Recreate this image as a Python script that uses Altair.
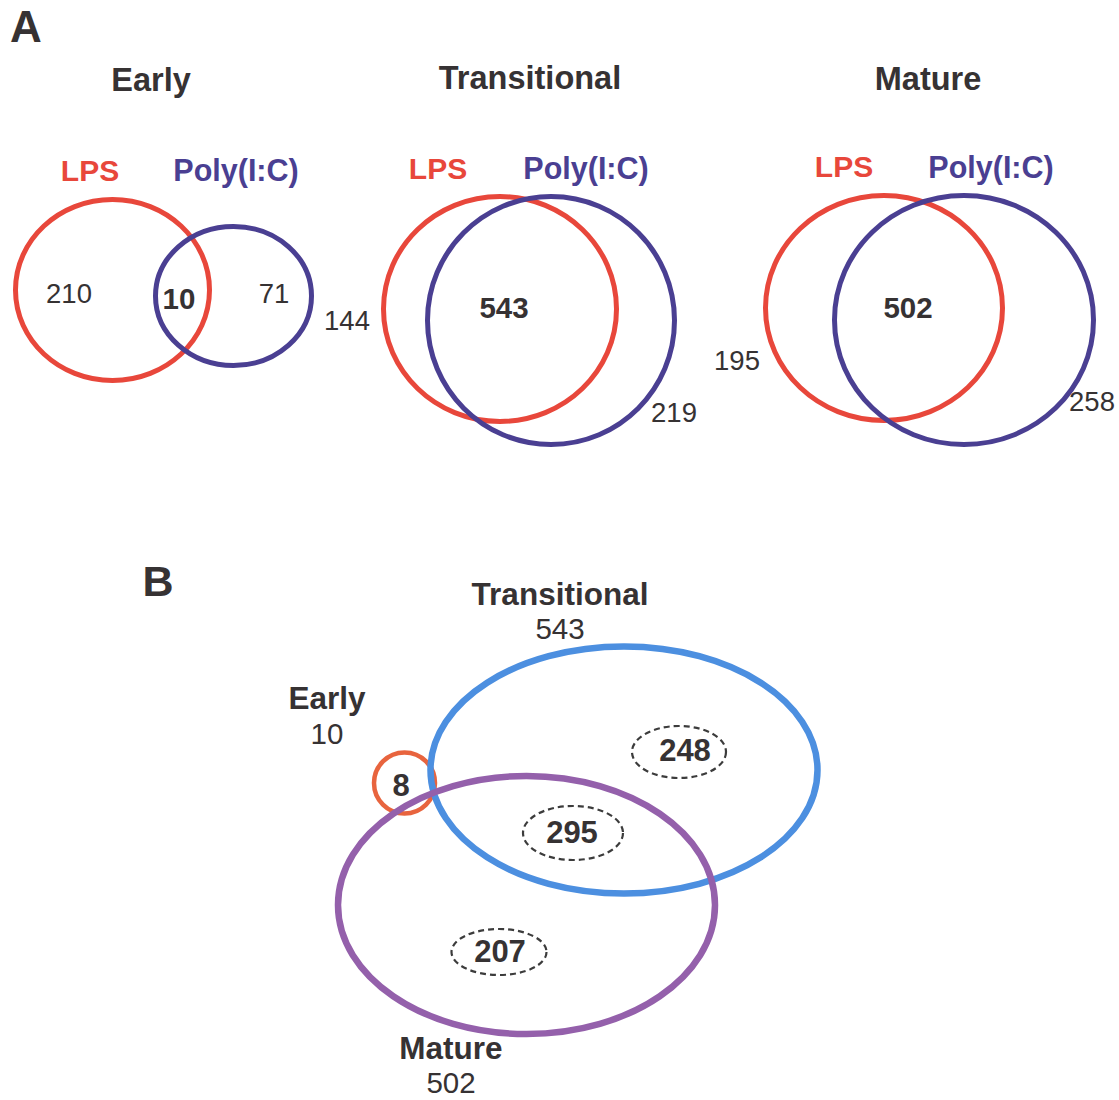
import altair as alt
import pandas as pd

W, H = 1119, 1100
FONT = "Liberation Sans"

# ---- Panel A: genes regulated by LPS and/or Poly(I:C) at each stage ----
stages = ["Early", "Transitional", "Mature"]
treatments = ["LPS", "Poly(I:C)"]
lps_only = [210, 144, 195]
shared = [10, 543, 502]
poly_only = [71, 219, 258]

# ---- Panel B: overlap of the shared gene sets between stages ----
b_sets = ["Early", "Transitional", "Mature"]
b_totals = [10, 543, 502]
b_regions = ["Early/Transitional/Mature", "Transitional only",
             "Transitional & Mature", "Mature only"]
b_counts = [8, 248, 295, 207]

# ---- layout (pixel space, origin top-left) ----
a_title_xy = [(151, 81), (530, 79), (928, 80)]
a_lps_label_xy = [(90, 172), (438, 170), (844, 168)]
a_poly_label_xy = [(236, 172), (586, 170), (991, 169)]
# (cx, cy, rx, ry) for each set outline
a_lps_ellipse = [(112.5, 290, 97, 90.5), (500, 309, 116.5, 112.5), (884, 308, 118.5, 112.5)]
a_poly_ellipse = [(233.5, 296, 78, 69.5), (551, 320.5, 123.5, 124), (964, 320, 129.5, 124.5)]
a_lps_only_xy = [(69, 295), (347, 322), (737, 362)]
a_shared_xy = [(179, 300), (504, 309), (908, 309)]
a_poly_only_xy = [(274, 295), (674, 414), (1092, 403)]

b_title_xy = [(327, 700), (560, 596), (451, 1050)]
b_total_xy = [(327, 735), (560, 630), (451, 1084)]
b_ellipse = [(404.5, 783, 30.5, 30.5), (624, 770, 193.5, 123.5), (526.5, 905, 188.5, 129)]
b_region_xy = [(401, 787), (685, 752), (572, 834), (500, 953)]
b_region_ring = [None, (679, 752, 47, 26), (573, 833, 50, 27), (499, 952, 47.5, 23)]

RED = "#e8473b"
NAVY = "#4a3f92"
DARK = "#363233"
b_colors = ["#e8643e", "#4c8fe0", "#9460ab"]

K = 0.5523


def ellipse_path(ratio):
    """Unit ellipse (x radius 1) as cubic Beziers, for a custom point shape."""
    r, k = ratio, K
    f = lambda v: f"{v:.4f}"
    return (f"M 1 0 C 1 {f(r*k)} {f(k)} {f(r)} 0 {f(r)} "
            f"C {f(-k)} {f(r)} -1 {f(r*k)} -1 0 "
            f"C -1 {f(-r*k)} {f(-k)} {f(-r)} 0 {f(-r)} "
            f"C {f(k)} {f(-r)} 1 {f(-r*k)} 1 0 Z")


outline_rows = []
for i in range(3):
    for geom, col in ((a_lps_ellipse[i], RED), (a_poly_ellipse[i], NAVY)):
        cx, cy, rx, ry = geom
        outline_rows.append(dict(x=cx, y=cy, shape=ellipse_path(ry / rx),
                                 size=(2 * rx) ** 2, color=col, sw=5))
for i, geom in enumerate(b_ellipse):
    cx, cy, rx, ry = geom
    outline_rows.append(dict(x=cx, y=cy, shape=ellipse_path(ry / rx),
                             size=(2 * rx) ** 2, color=b_colors[i],
                             sw=4.5 if i == 0 else 6.5))
outlines = pd.DataFrame(outline_rows)

ring_rows = []
for geom in b_region_ring:
    if geom is None:
        continue
    cx, cy, rx, ry = geom
    ring_rows.append(dict(x=cx, y=cy, shape=ellipse_path(ry / rx), size=(2 * rx) ** 2))
rings = pd.DataFrame(ring_rows)

bold_rows = [dict(x=26, y=29, t="A", s=44, c=DARK), dict(x=158, y=583, t="B", s=43, c=DARK)]
norm_rows = []
for i, st in enumerate(stages):
    bold_rows.append(dict(x=a_title_xy[i][0], y=a_title_xy[i][1], t=st, s=32.5, c=DARK))
    bold_rows.append(dict(x=a_lps_label_xy[i][0], y=a_lps_label_xy[i][1], t=treatments[0], s=30, c=RED))
    bold_rows.append(dict(x=a_poly_label_xy[i][0], y=a_poly_label_xy[i][1], t=treatments[1], s=30.5, c=NAVY))
    bold_rows.append(dict(x=a_shared_xy[i][0], y=a_shared_xy[i][1], t=str(shared[i]), s=29.5, c=DARK))
    norm_rows.append(dict(x=a_lps_only_xy[i][0], y=a_lps_only_xy[i][1], t=str(lps_only[i]), s=27.5, c=DARK))
    norm_rows.append(dict(x=a_poly_only_xy[i][0], y=a_poly_only_xy[i][1], t=str(poly_only[i]), s=27.5, c=DARK))
for i, st in enumerate(b_sets):
    bold_rows.append(dict(x=b_title_xy[i][0], y=b_title_xy[i][1], t=st, s=31.5, c=DARK))
    norm_rows.append(dict(x=b_total_xy[i][0], y=b_total_xy[i][1], t=str(b_totals[i]), s=29.5, c=DARK))
for i, n in enumerate(b_counts):
    bold_rows.append(dict(x=b_region_xy[i][0], y=b_region_xy[i][1], t=str(n), s=31, c=DARK))
bold_text = pd.DataFrame(bold_rows)
norm_text = pd.DataFrame(norm_rows)

xs = alt.Scale(domain=[0, W], nice=False, zero=False)
ys = alt.Scale(domain=[0, H], nice=False, zero=False, reverse=True)
X = alt.X("x:Q", scale=xs, axis=None)
Y = alt.Y("y:Q", scale=ys, axis=None)

outline_layer = alt.Chart(outlines).mark_point(filled=False, opacity=1, fill=None).encode(
    x=X, y=Y,
    shape=alt.Shape("shape:N", scale=None),
    size=alt.Size("size:Q", scale=None),
    stroke=alt.Stroke("color:N", scale=None),
    strokeWidth=alt.StrokeWidth("sw:Q", scale=None),
)

ring_layer = alt.Chart(rings).mark_point(
    filled=False, opacity=1, stroke="#3c3c3c", strokeWidth=2.2, strokeDash=[6, 4]
).encode(
    x=X, y=Y,
    shape=alt.Shape("shape:N", scale=None),
    size=alt.Size("size:Q", scale=None),
)


def text_layer(df, weight):
    return alt.Chart(df).mark_text(
        font=FONT, fontWeight=weight, align="center", baseline="middle"
    ).encode(
        x=X, y=Y,
        text="t:N",
        size=alt.Size("s:Q", scale=None),
        color=alt.Color("c:N", scale=None),
    )


chart = alt.layer(
    outline_layer, ring_layer, text_layer(norm_text, "normal"), text_layer(bold_text, "bold")
).properties(
    width=W, height=H, padding=0, autosize=alt.AutoSizeParams(type="none"), background="white"
).configure_view(stroke=None)

chart.save("out.html", embed_options={"renderer": "svg", "actions": False})
